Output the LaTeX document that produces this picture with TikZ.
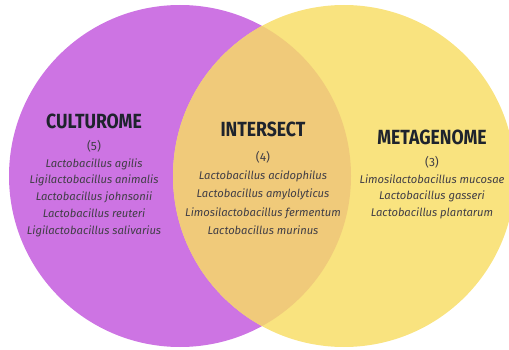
\documentclass[tikz,border=0pt]{standalone}
\usepackage{fontspec}
\setmainfont{Fira Sans}
\newfontfamily\headfont[FakeStretch=0.86]{Fira Sans}
\usepackage{tikz}
\usetikzlibrary{positioning}
\definecolor{cultpurple}{RGB}{205,116,227}
\definecolor{metayellow}{RGB}{249,227,127}
\definecolor{lensamber}{RGB}{240,202,122}
\definecolor{headdark}{RGB}{30,35,45}
\definecolor{listgray}{RGB}{65,62,70}
\tikzset{
  setcircle/.style={circle, minimum size=342pt, inner sep=0pt},
  settitle/.style={anchor=base, inner sep=0pt, text=headdark,
    font=\headfont\fontsize{20.5}{22}\selectfont\bfseries},
  setlist/.style={anchor=north, inner sep=0pt, align=center, text=listgray,
    font=\fontsize{11.2}{16.8}\selectfont}
}
\begin{document}
\begin{tikzpicture}[x=1pt, y=-1pt]
  \useasboundingbox (0,0) rectangle (509,350);
  \node[setcircle, fill=cultpurple] (cult) at (180,176) {};
  \node[setcircle, fill=metayellow] (meta) at (344,176) {};
  \begin{scope}
    \clip (cult.center) circle[radius=171pt];
    \fill[lensamber] (meta.center) circle[radius=171pt];
  \end{scope}

  \node[settitle] (culttitle) at (94,129) {CULTUROME};
  \node[setlist, below=11pt of culttitle.base] (cultlist) {{\large(5)}\\
    \itshape Lactobacillus agilis\\
    \itshape Ligilactobacillus animalis\\
    \itshape Lactobacillus johnsonii\\
    \itshape Lactobacillus reuteri\\
    \itshape Ligilactobacillus salivarius};

  \node[settitle] (lenstitle) at (263,137) {INTERSECT};
  \node[setlist, below=14pt of lenstitle.base,
    font=\fontsize{11.2}{18.3}\selectfont] (lenslist) {{\large(4)}\\
    \itshape Lactobacillus acidophilus\\
    \itshape Lactobacillus amylolyticus\\
    \itshape Limosilactobacillus fermentum\\
    \itshape Lactobacillus murinus};

  \node[settitle] (metatitle) at (432,145) {METAGENOME};
  \node[setlist, below=11pt of metatitle.base] (metalist) {{\large(3)}\\
    \itshape Limosilactobacillus mucosae\\
    \itshape Lactobacillus gasseri\\
    \itshape Lactobacillus plantarum};
\end{tikzpicture}
\end{document}
